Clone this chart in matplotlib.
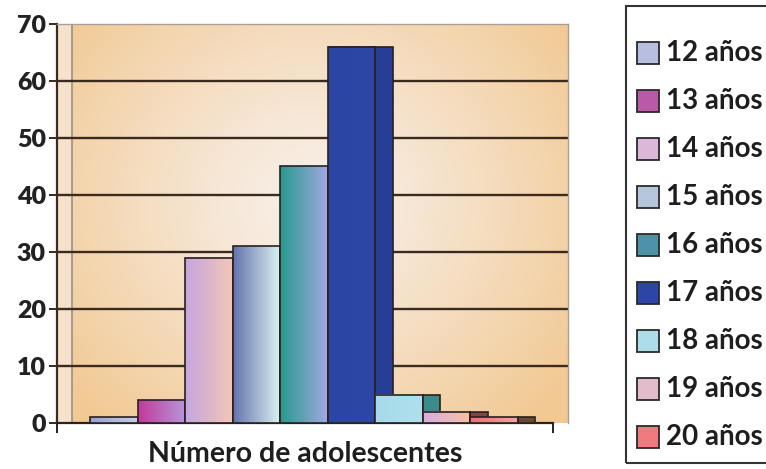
import numpy as np
import matplotlib
matplotlib.use("Agg")
import matplotlib.pyplot as plt
from matplotlib.colors import to_rgb
from matplotlib.patches import Rectangle

plt.rcParams['font.family'] = ['Lato', 'DejaVu Sans']

# data
ages = ["12 años", "13 años", "14 años", "15 años", "16 años",
        "17 años", "18 años", "19 años", "20 años"]
counts = [1, 4, 29, 31, 45, 66, 5, 2, 1]

# colours: left / right of the front gradient, side face, legend swatch
left_cols = ["#97A2D4", "#C23A9A", "#C6A6E0", "#6474AE", "#279A8E",
             "#2A45A2", "#A6DAEA", "#D6AEE0", "#EE6E72"]
right_cols = ["#C9CDEA", "#B696DA", "#F3C6B6", "#DDF2F2", "#A2A8E0",
              "#2C47A6", "#B0E0EE", "#F7C2A2", "#F2A4A4"]
side_cols = ["#6E78A8", "#7A2C6A", "#8E7AA0", "#56658F", "#1E6E68",
             "#263E95", "#3C8A8A", "#7A4A40", "#6A4A30"]
swatch_cols = ["#B7BEE0", "#B85AA8", "#DCB8D8", "#B6C6DA", "#4E92A8",
               "#2C45A6", "#AEDDEA", "#E2BCCB", "#F07A80"]

fig = plt.figure(figsize=(7.66, 4.69), dpi=100)
ax = fig.add_axes([57 / 766, 46 / 469, 511 / 766, 399 / 469])

x0, x1 = -1.195, 9.56
ax.set_xlim(x0, x1)
ax.set_ylim(0, 70)

# plot area background: soft radial gradient, orange edges to pale centre
gx, gy = np.meshgrid(np.linspace(0, 1, 300), np.linspace(0, 1, 240))
t = np.sqrt(((gx - 0.5) / 0.62) ** 2 + ((gy - 0.55) / 0.75) ** 2)
t = np.clip(t, 0, 1) ** 1.2
c_in = np.array(to_rgb("#F8F0EA"))
c_out = np.array(to_rgb("#F2C993"))
bg = c_in * (1 - t[..., None]) + c_out * t[..., None]
ax.imshow(bg, extent=[x0, x1, 0, 70], aspect="auto", zorder=0, origin="lower")

# left wall strip of the 3D frame
ax.axvspan(x0, -0.88, color="#F6E2CC", zorder=0.5, lw=0)
ax.axvline(-0.88, color="#9A9088", lw=1.2, zorder=0.6)

# gridlines on the back wall
for yv in range(10, 70, 10):
    ax.axhline(yv, color="#3B2A1E", lw=1.7, zorder=1)

xs = np.arange(len(counts))
sw = 0.37
for i, (v, lc, rc, sc) in enumerate(zip(counts, left_cols, right_cols, side_cols)):
    zf = 3 + 2 * i
    # side face
    ax.bar(xs[i] + 0.5 + sw / 2, v, width=sw, color=sc, edgecolor="#2A2020",
           lw=1.2, zorder=zf + 1)
    # front face with gradient
    b = ax.bar(xs[i], v, width=1.0, color=lc, edgecolor="none", zorder=zf)[0]
    grad = np.linspace(0, 1, 64)[None, :, None]
    img = np.array(to_rgb(lc)) * (1 - grad) + np.array(to_rgb(rc)) * grad
    ax.imshow(img, extent=[b.get_x(), b.get_x() + 1.0, 0, v], aspect="auto",
              zorder=zf + 0.2, interpolation="bilinear")
    ax.bar(xs[i], v, width=1.0, fill=False, edgecolor="#2A2020", lw=1.2,
           zorder=zf + 0.4)

ax.set_xlim(x0, x1)
ax.set_ylim(0, 70)

# axes styling
for s in ["top", "right"]:
    ax.spines[s].set_color("#A8A098")
    ax.spines[s].set_linewidth(1.0)
ax.spines["left"].set_color("#3B2A1E")
ax.spines["left"].set_linewidth(1.6)
ax.spines["bottom"].set_color("#2A2020")
ax.spines["bottom"].set_linewidth(1.6)
ax.spines["bottom"].set_bounds(x0, 9.25)
ax.spines["right"].set_zorder(30)

ax.set_yticks(range(0, 71, 10))
ax.tick_params(axis="y", direction="out", length=6, width=1.4, color="#3B2A1E",
               labelsize=18, pad=2, labelcolor="#222222")
for lab in ax.get_yticklabels():
    lab.set_fontweight("heavy")
ax.set_xticks([x0, 9.25])
ax.set_xticklabels([])
ax.tick_params(axis="x", direction="out", length=7, width=1.4, color="#2A2020")

fig.text(305 / 766, 1 - 454 / 469, "Número de adolescentes", ha="center",
         va="center", fontsize=20.5, fontweight="bold", color="#1E1E1E")

# legend box, cut by the right edge as in the original
fig.add_artist(Rectangle((626 / 766, 6 / 469), 0.3, 457 / 469,
                         transform=fig.transFigure, fill=False,
                         edgecolor="#333333", lw=1.5))
for i, (lab, col) in enumerate(zip(ages, swatch_cols)):
    yc = 1 - (53 + 48 * i) / 469
    fig.add_artist(Rectangle((637 / 766, yc - 11 / 469), 22 / 766, 22 / 469,
                             transform=fig.transFigure, facecolor=col,
                             edgecolor="#2A2A2A", lw=1.3))
    fig.text(666 / 766, yc, lab, ha="left", va="center", fontsize=20,
             fontweight="bold", color="#1E1E1E")

fig.savefig("out.png", dpi=100)
